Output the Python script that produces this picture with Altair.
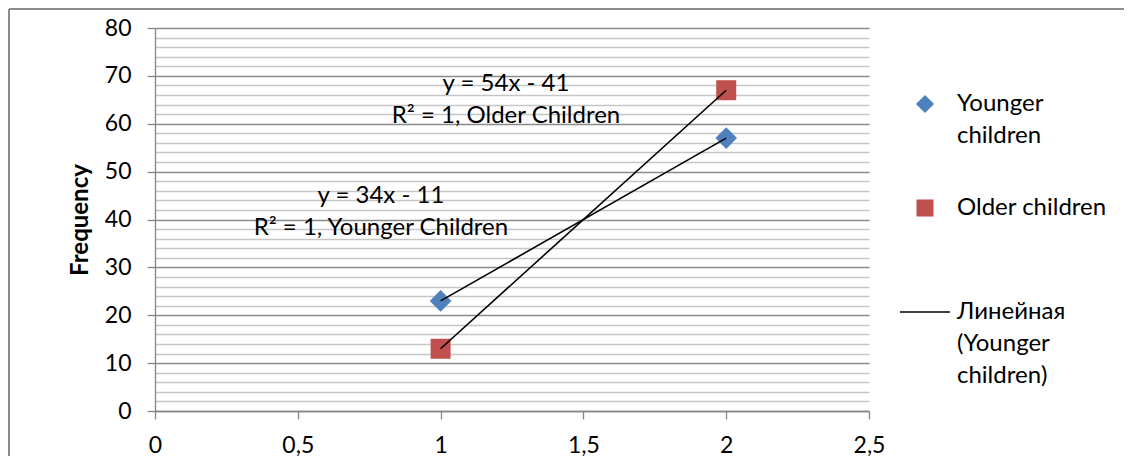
import altair as alt
import pandas as pd

# ---- data ----
x_vals = [1, 2]
younger = [23, 57]
older = [13, 67]
series_names = ["Younger children", "Older children"]

fit_labels = ["y = 54x - 41\nR² = 1, Older Children", "y = 34x - 11\nR² = 1, Younger Children"]
fit_label_x = [1.229, 0.791]
fit_label_y = [68.3, 44.9]

legend_labels = ["Younger\nchildren", "Older children", "Линейная\n(Younger\nchildren)"]

x_ticks = [0, 0.5, 1, 1.5, 2, 2.5]
y_ticks = list(range(0, 81, 2))

BLUE = "#4f81bd"
RED = "#c0504d"
FONT = "Lato"
FS = 24
W, H = 714, 383

pts = pd.DataFrame({
    "x": x_vals * 2,
    "y": younger + older,
    "series": [series_names[0]] * 2 + [series_names[1]] * 2,
})
ann = pd.DataFrame({"x": fit_label_x, "y": fit_label_y, "t": fit_labels})

major = "datum.value % 10 === 0"
xscale = alt.Scale(domain=[0, 2.5], nice=False, zero=False)
yscale = alt.Scale(domain=[0, 80], nice=False)

xaxis = alt.Axis(
    values=x_ticks, labelExpr="replace(toString(datum.value), '.', ',')",
    grid=False, domainColor="#868686", domainWidth=1.3, tickColor="#868686", tickWidth=1.3,
    tickSize=8, labelPadding=15, labelFont=FONT, labelFontSize=FS - 1, labelColor="black",
    title=None, labelFlush=False, labelOverlap=False,
)
yaxis = alt.Axis(
    values=y_ticks, labelExpr=f"{major} ? datum.label : ''",
    grid=True, labelOverlap=False,
    gridColor={"condition": {"test": major, "value": "#8a8a8a"}, "value": "#c6c6c6"},
    gridWidth={"condition": {"test": major, "value": 1.3}, "value": 1.6},
    tickColor={"condition": {"test": major, "value": "#868686"}, "value": "transparent"},
    tickWidth=1.3, tickSize=8, labelPadding=16,
    domainColor="#868686", domainWidth=1.3,
    labelFont=FONT, labelFontSize=FS - 1, labelColor="black",
    title="Frequency", titleFont=FONT, titleFontSize=FS, titleFontWeight="bold",
    titleColor="black", titleX=-75, titleY=H / 2, titleAngle=-90, titleAlign="center",
    titleBaseline="middle",
)

X = alt.X("x:Q", scale=xscale, axis=xaxis)
Y = alt.Y("y:Q", scale=yscale, axis=yaxis)

base = alt.Chart(pts)
shape_scale = alt.Scale(domain=series_names, range=["diamond", "square"])
color_scale = alt.Scale(domain=series_names, range=[BLUE, RED])

points = base.mark_point(filled=True, opacity=1).encode(
    x=X, y=Y,
    shape=alt.Shape("series:N", scale=shape_scale, legend=None),
    color=alt.Color("series:N", scale=color_scale, legend=None),
    size=alt.Size("series:N", scale=alt.Scale(domain=series_names, range=[470, 400]), legend=None),
)

lines = base.mark_line(color="black", strokeWidth=1.6).encode(
    x=X, y=Y, detail="series:N",
)

annot = alt.Chart(ann).mark_text(
    font=FONT, fontSize=FS, color="black", align="center", baseline="middle",
    lineBreak="\n", lineHeight=32,
).encode(x=X, y=Y, text="t:N")

# ---- manual legend (outside plot area, pixel layout) ----
one = pd.DataFrame({"a": [0]})
leg_diamond = alt.Chart(one).mark_point(filled=True, opacity=1, shape="diamond", size=330, color=BLUE).encode(
    x=alt.value(770), y=alt.value(76))
leg_square = alt.Chart(one).mark_point(filled=True, opacity=1, shape="square", size=290, color=RED).encode(
    x=alt.value(770), y=alt.value(180))
leg_line = alt.Chart(one).mark_rule(color="black", strokeWidth=1.5).encode(
    x=alt.value(745), x2=alt.value(795), y=alt.value(284))

def leg_label(txt, ypix):
    return alt.Chart(pd.DataFrame({"t": [txt]})).mark_text(
        font=FONT, fontSize=FS, color="black", align="left", baseline="middle",
        lineBreak="\n", lineHeight=32,
    ).encode(x=alt.value(802), y=alt.value(ypix), text="t:N")

leg_texts = [leg_label(legend_labels[0], 76), leg_label(legend_labels[1], 180), leg_label(legend_labels[2], 284)]

# ---- outer frame ----
frame_top = alt.Chart(one).mark_rule(color="#8c8c8c", strokeWidth=2).encode(
    x=alt.value(-146), x2=alt.value(1000), y=alt.value(-19))
frame_left = alt.Chart(one).mark_rule(color="#8c8c8c", strokeWidth=2).encode(
    x=alt.value(-146), y=alt.value(-19), y2=alt.value(500))

chart = alt.layer(
    points, lines, annot, leg_diamond, leg_square, leg_line, *leg_texts, frame_top, frame_left
).properties(
    width=W, height=H,
    autosize=alt.AutoSizeParams(type="none"),
    padding={"left": 147, "top": 20, "right": 255, "bottom": 45},
    background="white",
).configure_view(stroke=None).configure_axis(labelOverlap=False)

chart.save("out.html", embed_options={"renderer": "svg", "actions": False})
